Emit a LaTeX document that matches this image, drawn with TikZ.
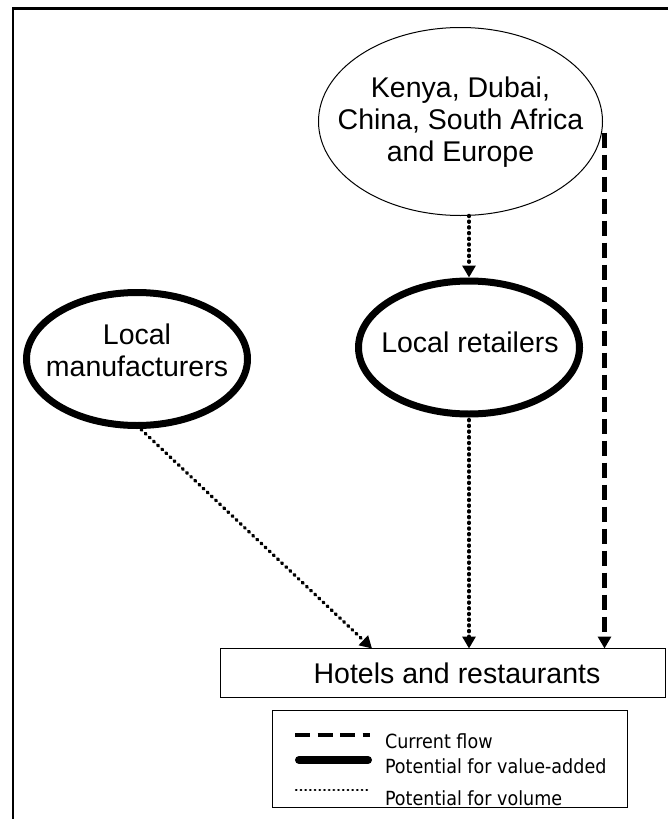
\documentclass[tikz,border=0pt]{standalone}
\usepackage{fontspec}
\setmainfont{Liberation Sans}
\newfontfamily\legendfont[FakeStretch=0.9]{DejaVu Sans}
\usetikzlibrary{shapes.geometric,arrows.meta}

\begin{document}
\begin{tikzpicture}[x=1pt,y=-1pt,
  every node/.style={inner sep=0pt, outer sep=0pt},
  bigtext/.style={font=\fontsize{28.5}{32}\selectfont, align=center},
  source/.style={ellipse, draw, line width=1pt, minimum width=284pt, minimum height=188pt},
  actor/.style={ellipse, draw, line width=7pt, minimum width=221pt, minimum height=133pt},
  box/.style={rectangle, draw, line width=1.5pt},
  volume/.style={line width=3.5pt, line cap=round, dash pattern=on 1pt off 4.7pt},
  current/.style={line width=4.5pt, dash pattern=on 15pt off 7pt},
  valueadded/.style={line width=8pt, line cap=round},
  tip/.style={-{Triangle[length=12pt,width=13pt]}},
  legtext/.style={font=\legendfont\fontsize{19.5}{23}\selectfont, anchor=base west}
]
\useasboundingbox (0,0) rectangle (668,819);

% outer frame (top and left edges)
\draw[line width=2.8pt, line join=miter] (13,819) -- (13,8.6) -- (668,8.6);

% sources
\node[source] (src) at (460.5,121.5) {};
\node[bigtext] (srctext) at (460.5,122) {Kenya, Dubai,\\China, South Africa\\and Europe};

\node[actor] (ret) at (469,347.5) {};
\node[bigtext] (rettext) at (470,342) {Local retailers};

\node[actor] (man) at (137,359) {};
\node[bigtext] (mantext) at (137,350) {Local\\manufacturers};

% destination
\node[box, bigtext, minimum width=445pt, minimum height=49pt] (hotels) at (443,673)
  {\hspace*{28pt}Hotels and restaurants};

% flows
\coordinate (mancol) at (372,0);
\draw[volume, tip, shorten >=3.5pt] (ret.north |- src.south) -- (ret.north);
\draw[volume, tip] (ret.south) -- (ret.south |- hotels.north);
\draw[volume, tip] (man.south) -- (hotels.north -| mancol);
\draw[current, tip, shorten <=11pt] ([xshift=2pt]src.east) -- ([xshift=2pt]src.east |- hotels.north);

% legend
\node[box, minimum width=355pt, minimum height=97pt] (legend) at (450,759) {};
\coordinate (k1a) at (295,735); \coordinate (k1b) at (370,735);
\coordinate (k2a) at (299,760); \coordinate (k2b) at (368,760);
\coordinate (k3a) at (296,790); \coordinate (k3b) at (369,790);
\draw[line width=4pt, dash pattern=on 15pt off 7.5pt] (k1a) -- (k1b);
\draw[valueadded] (k2a) -- (k2b);
\draw[line width=2.5pt, line cap=round, dash pattern=on 0.5pt off 4.2pt] (k3a) -- (k3b);
\node[legtext] (lt1) at (385,748) {Current flow};
\node[legtext] (lt2) at (385,773) {Potential for value-added};
\node[legtext] (lt3) at (385,805) {Potential for volume};
\end{tikzpicture}
\end{document}
